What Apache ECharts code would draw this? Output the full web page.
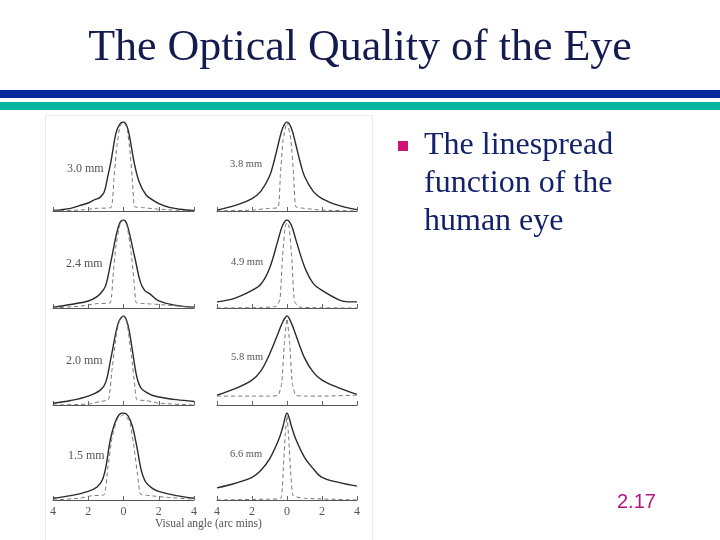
<!DOCTYPE html>
<html>
<head>
<meta charset="utf-8">
<script src="https://cdn.jsdelivr.net/npm/echarts@6/dist/echarts.min.js"></script>
<style>html,body{margin:0;padding:0;background:#fff}#c{width:720px;height:540px}</style>
</head>
<body>
<div id="c"></div>
<script>
// ---- Data (visual angle in arc min, normalized intensity) ----
const pupilLabels = ['3.0 mm','3.8 mm','2.4 mm','4.9 mm','2.0 mm','5.8 mm','1.5 mm','6.6 mm'];
const xTicks = [-4,-2,0,2,4];

const solid30 = [[-4,0.005],[-3,0.03],[-2.5,0.06],[-2,0.09],[-1.6,0.13],[-1.35,0.15],[-1.1,0.21],[-0.9,0.38],[-0.7,0.57],[-0.42,0.88],[-0.2,0.98],[0,1],[0.2,0.95],[0.34,0.84],[0.62,0.53],[0.9,0.32],[1.28,0.18],[1.6,0.13],[2.04,0.08],[2.6,0.04],[3.2,0.02],[4,0.005]];
const dash30 = [[-4,0],[-2.5,0.01],[-1.5,0.03],[-0.7,0.04],[-0.55,0.35],[-0.38,0.72],[-0.2,0.95],[0,1],[0.2,0.93],[0.38,0.65],[0.52,0.3],[0.62,0.05],[1,0.04],[2,0.02],[4,0]];

const solid38 = [[-4,0.01],[-3,0.06],[-2,0.14],[-1.5,0.22],[-1,0.39],[-0.75,0.55],[-0.5,0.75],[-0.25,0.93],[0,1],[0.25,0.93],[0.5,0.75],[0.75,0.55],[1,0.39],[1.5,0.22],[2,0.14],[3,0.06],[4,0.015]];
const dash38 = [[-4,0],[-2,0.01],[-1,0.03],[-0.5,0.04],[-0.38,0.4],[-0.22,0.8],[0,1],[0.22,0.8],[0.38,0.4],[0.5,0.05],[1,0.03],[2,0.01],[4,0]];

const solid24 = [[-4,0.01],[-3,0.04],[-2,0.08],[-1.5,0.13],[-1.2,0.19],[-1,0.26],[-0.7,0.54],[-0.42,0.82],[-0.2,0.97],[0,1],[0.2,0.95],[0.5,0.7],[0.7,0.52],[0.95,0.3],[1.2,0.2],[1.5,0.16],[2,0.08],[3,0.03],[4,0.01]];
const dash24 = [[-4,0],[-2.5,0.02],[-1.5,0.05],[-0.75,0.06],[-0.6,0.35],[-0.42,0.72],[-0.2,0.95],[0,1],[0.2,0.93],[0.45,0.6],[0.62,0.25],[0.72,0.06],[1.2,0.05],[2,0.04],[4,0.005]];

const solid49 = [[-4,0.07],[-3,0.11],[-2,0.2],[-1.5,0.27],[-1,0.45],[-0.5,0.78],[-0.25,0.94],[0,1],[0.25,0.94],[0.5,0.78],[1,0.47],[1.5,0.28],[2,0.2],[3,0.09],[3.5,0.07],[4,0.07]];
const dash49 = [[-4,0],[-1.5,0.005],[-0.6,0.02],[-0.4,0.1],[-0.25,0.6],[-0.1,0.93],[0,0.97],[0.12,0.92],[0.28,0.55],[0.42,0.08],[0.7,0.01],[4,0]];

const solid20 = [[-4,0.02],[-3,0.05],[-2,0.1],[-1.3,0.17],[-1,0.26],[-0.7,0.54],[-0.3,0.92],[0,1],[0.25,0.9],[0.5,0.62],[0.75,0.32],[1,0.19],[1.5,0.12],[2,0.09],[3,0.06],[4,0.04]];
const dash20 = [[-4,0],[-2,0.01],[-1.3,0.04],[-0.85,0.06],[-0.65,0.4],[-0.4,0.8],[-0.2,0.96],[0,1],[0.2,0.92],[0.45,0.55],[0.65,0.2],[0.75,0.06],[1.3,0.05],[2,0.02],[4,0]];

const solid58 = [[-4,0.11],[-3,0.18],[-2,0.28],[-1.5,0.38],[-1,0.57],[-0.5,0.81],[-0.25,0.93],[0,1],[0.25,0.92],[0.5,0.79],[1,0.53],[1.5,0.37],[2,0.28],[3,0.19],[4,0.12]];
const dash58 = [[-4,0.1],[-2,0.1],[-1,0.1],[-0.5,0.11],[-0.3,0.25],[-0.15,0.7],[0,0.97],[0.15,0.7],[0.3,0.25],[0.5,0.11],[1,0.1],[2,0.1],[4,0.11]];

const solid15 = [[-4,0.02],[-3,0.05],[-2,0.1],[-1.5,0.15],[-1.2,0.23],[-1,0.38],[-0.75,0.69],[-0.5,0.88],[-0.25,0.98],[0,1],[0.25,0.97],[0.5,0.85],[0.75,0.62],[1,0.35],[1.25,0.21],[1.6,0.14],[2,0.1],[3,0.05],[4,0.02]];
const dash15 = [[-4,0],[-2.5,0.02],[-1.8,0.05],[-1.1,0.06],[-0.9,0.35],[-0.65,0.72],[-0.35,0.93],[0,0.98],[0.35,0.9],[0.6,0.6],[0.85,0.2],[0.95,0.07],[1.5,0.05],[2.5,0.03],[4,0.01]];

const solid66 = [[-4,0.14],[-3,0.19],[-2,0.26],[-1.5,0.34],[-1,0.47],[-0.5,0.68],[-0.25,0.83],[0,1],[0.25,0.85],[0.5,0.7],[1,0.49],[1.5,0.36],[2,0.26],[3,0.2],[4,0.16]];
const dash66 = [[-4,0],[-1,0.01],[-0.35,0.02],[-0.2,0.4],[-0.1,0.75],[0,0.97],[0.1,0.7],[0.2,0.35],[0.35,0.05],[1,0.02],[4,0]];

const solidCurves = [solid30, solid38, solid24, solid49, solid20, solid58, solid15, solid66];
const dashCurves = [dash30, dash38, dash24, dash49, dash20, dash58, dash15, dash66];

const titleText = 'The Optical Quality of the Eye';
const bulletLines = ['The linespread', 'function of the', 'human eye'];
const pageNumber = '2.17';
const xAxisName = 'Visual angle (arc mins)';

// ---- Layout ----
const rowTop = [122, 220, 316, 413];
const rowBottom = [211, 308, 405, 500];
const colLeft = [53, 217];
const colWidth = [141, 140];
const labelPos = [[67,170],[230,165],[66,265],[231,263],[66,362],[231,358],[68,457],[230,455]];
const labelSize = [12, 10.5];

const grids = [], xAxes = [], yAxes = [], series = [], graphics = [];

for (let i = 0; i < 8; i++) {
  const r = Math.floor(i / 2), c = i % 2;
  grids.push({left: colLeft[c], width: colWidth[c], top: rowTop[r], height: rowBottom[r] - rowTop[r]});
  xAxes.push({
    type: 'value', gridIndex: i, min: -4, max: 4, interval: 2,
    axisLine: {show: true, lineStyle: {color: '#555', width: 1.2}},
    axisTick: {show: true, inside: true, length: 4, lineStyle: {color: '#666'}},
    splitLine: {show: false},
    axisLabel: {show: r === 3, color: '#555', fontFamily: 'Liberation Serif', fontSize: 12, margin: 6,
      formatter: v => String(Math.abs(v))}
  });
  yAxes.push({type: 'value', gridIndex: i, min: 0, max: 1, show: false});
  series.push({
    type: 'line', xAxisIndex: i, yAxisIndex: i, data: solidCurves[i], showSymbol: false,
    smooth: 0.35, lineStyle: {color: '#2a2a2a', width: 1.4}, silent: true
  });
  series.push({
    type: 'line', xAxisIndex: i, yAxisIndex: i, data: dashCurves[i], showSymbol: false,
    smooth: 0.15, lineStyle: {color: '#777', width: 1, type: [4, 3]}, silent: true
  });
  graphics.push({type: 'text', left: labelPos[i][0], top: labelPos[i][1] - labelSize[c] * 0.6,
    style: {text: pupilLabels[i], fill: '#555', font: labelSize[c] + 'px "Liberation Serif"'}});
}

// decorative slide elements
graphics.push({type: 'rect', left: 0, top: 90, shape: {width: 720, height: 8}, style: {fill: '#06279a'}});
graphics.push({type: 'rect', left: 0, top: 102, shape: {width: 720, height: 8}, style: {fill: '#07b3a1'}});
graphics.push({type: 'rect', left: 43, top: 113, shape: {width: 327, height: 430}, style: {fill: 'none', stroke: '#ececec', lineWidth: 1}, z: -1});
graphics.push({type: 'text', left: 'center', top: 26,
  style: {text: titleText, fill: '#141c4f', font: '44px "Liberation Serif"'}});
graphics.push({type: 'rect', left: 398, top: 141, shape: {width: 10, height: 10}, style: {fill: '#cc1479'}});
bulletLines.forEach((t, k) => {
  graphics.push({type: 'text', left: 424, top: 130 + k * 38,
    style: {text: t, fill: '#13236b', font: '32px "Liberation Serif"'}});
});
graphics.push({type: 'text', left: 617, top: 492,
  style: {text: pageNumber, fill: '#b3157c', font: '20px "Liberation Sans"'}});
graphics.push({type: 'text', left: 155, top: 518,
  style: {text: xAxisName, fill: '#555', font: '11.5px "Liberation Serif"'}});

const chart = echarts.init(document.getElementById('c'));
chart.setOption({
  animation: false,
  backgroundColor: '#fff',
  grid: grids, xAxis: xAxes, yAxis: yAxes, series: series, graphic: graphics
});
</script>
</body>
</html>
